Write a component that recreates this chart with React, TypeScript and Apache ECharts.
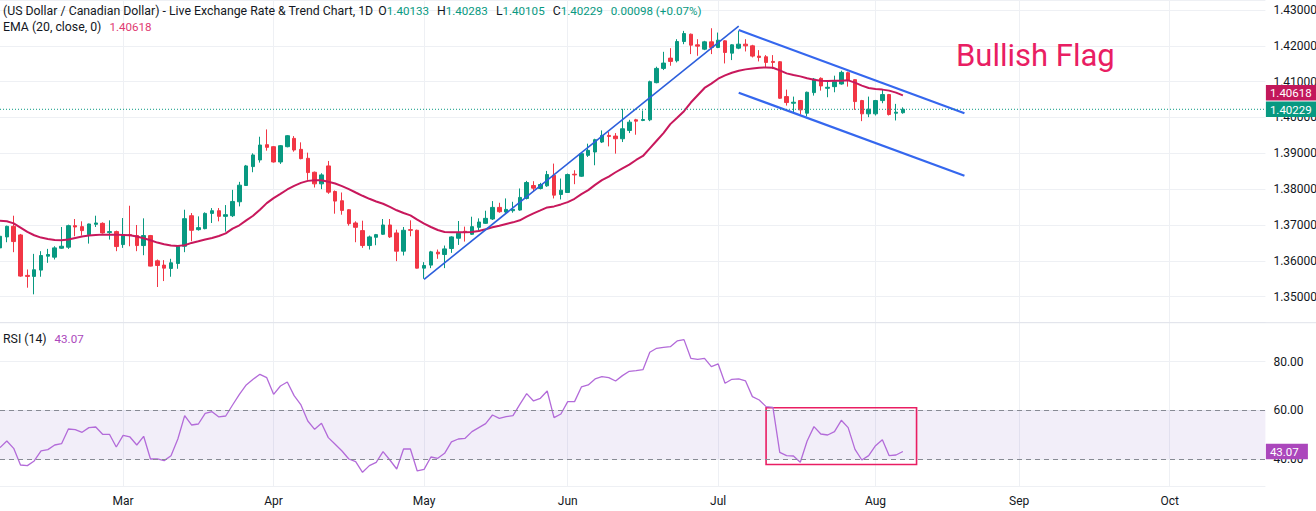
import React, { useEffect, useRef } from "react";
import * as echarts from "echarts";

// ---------- data ----------
const START_DATE = "2026-02-04";
const SLOT_COUNT = 186; // trading-day slots shown on the time axis (incl. future space)
const MONTHS = ["Jan", "Feb", "Mar", "Apr", "May", "Jun", "Jul", "Aug", "Sep", "Oct", "Nov", "Dec"];

const opens = [
  1.36361, 1.36667, 1.36963, 1.36722, 1.35593, 1.35565, 1.35741, 1.3613, 1.36102, 1.36352,
  1.3638, 1.36981, 1.36954, 1.36731, 1.37019, 1.37046, 1.36787, 1.36815, 1.36454, 1.36731,
  1.36704, 1.36426, 1.36704, 1.36, 1.3588, 1.35787, 1.35926, 1.36407, 1.37259, 1.3687,
  1.36898, 1.37324, 1.37398, 1.37241, 1.37259, 1.37648, 1.38102, 1.3863, 1.38815, 1.39241,
  1.39185, 1.38759, 1.39185, 1.39417, 1.39111, 1.38861, 1.38472, 1.38148, 1.38648, 1.37935,
  1.37676, 1.37426, 1.37056, 1.36843, 1.36426, 1.36657, 1.36741, 1.37, 1.36778, 1.36269,
  1.3687, 1.36852, 1.35796, 1.3588, 1.36241, 1.36176, 1.36343, 1.3663, 1.36824, 1.36741,
  1.36935, 1.37046, 1.37167, 1.37491, 1.37361, 1.37398, 1.37417, 1.37741, 1.38102, 1.38019,
  1.38093, 1.38389, 1.37852, 1.37907, 1.38417, 1.38361, 1.38944, 1.39037, 1.39315, 1.395,
  1.39481, 1.39407, 1.39639, 1.39935, 1.39917, 1.39935, 1.40972, 1.4137, 1.41657, 1.41583,
  1.4212, 1.42324, 1.42028, 1.41907, 1.42111, 1.41954, 1.42139, 1.41796, 1.41935, 1.42046,
  1.42, 1.41713, 1.41694, 1.41565, 1.41556, 1.40583, 1.40398, 1.40472, 1.4012, 1.40694,
  1.41093, 1.40815, 1.40861, 1.40935, 1.4125, 1.41056, 1.40472, 1.40102, 1.40102, 1.40472,
  1.40639, 1.4012, 1.40133,
];
const highs = [
  1.36731, 1.36981, 1.37259, 1.3675, 1.35759, 1.36194, 1.36269, 1.36333, 1.36407, 1.36944,
  1.37009, 1.37167, 1.37102, 1.37037, 1.37259, 1.37074, 1.3713, 1.36843, 1.37194, 1.37537,
  1.37, 1.37185, 1.36722, 1.36037, 1.36019, 1.36056, 1.36426, 1.37426, 1.37333, 1.37241,
  1.37352, 1.37472, 1.37472, 1.37556, 1.37981, 1.38204, 1.38676, 1.39, 1.39463, 1.39667,
  1.39204, 1.39231, 1.39509, 1.39481, 1.39306, 1.39019, 1.38491, 1.38444, 1.38787, 1.37963,
  1.37907, 1.37444, 1.37102, 1.3712, 1.36704, 1.3675, 1.37167, 1.37167, 1.3687, 1.36944,
  1.3713, 1.3687, 1.35963, 1.36278, 1.36315, 1.36426, 1.36685, 1.37111, 1.36954, 1.37231,
  1.37185, 1.37398, 1.37667, 1.3762, 1.37741, 1.37648, 1.38019, 1.38231, 1.38222, 1.38176,
  1.38509, 1.38713, 1.38296, 1.38435, 1.38528, 1.39009, 1.39269, 1.39407, 1.39639, 1.39593,
  1.39565, 1.40241, 1.39935, 1.39963, 1.40194, 1.41028, 1.41417, 1.41833, 1.41935, 1.42185,
  1.42417, 1.42343, 1.42185, 1.42139, 1.42491, 1.4237, 1.42157, 1.42046, 1.42417, 1.42185,
  1.42028, 1.4188, 1.41741, 1.41741, 1.41574, 1.40778, 1.40583, 1.40491, 1.40722, 1.41102,
  1.4112, 1.41, 1.41167, 1.41306, 1.41278, 1.41074, 1.40491, 1.40583, 1.40491, 1.40796,
  1.40657, 1.4038, 1.40283,
];
const lows = [
  1.36315, 1.36519, 1.36241, 1.35556, 1.3525, 1.35065, 1.35556, 1.35944, 1.36037, 1.36333,
  1.36333, 1.36685, 1.36704, 1.36481, 1.36944, 1.36759, 1.36593, 1.36269, 1.36361, 1.36407,
  1.36269, 1.36157, 1.35843, 1.35269, 1.35435, 1.35556, 1.35778, 1.36241, 1.36546, 1.36843,
  1.3688, 1.37056, 1.37102, 1.36815, 1.37222, 1.37519, 1.38093, 1.38472, 1.38741, 1.39074,
  1.38741, 1.38704, 1.39167, 1.39046, 1.38833, 1.38259, 1.38046, 1.38, 1.3787, 1.37315,
  1.37287, 1.36981, 1.36519, 1.36361, 1.36315, 1.36435, 1.36722, 1.36639, 1.35991, 1.36148,
  1.36685, 1.35787, 1.355, 1.35796, 1.36056, 1.35796, 1.36222, 1.36444, 1.36537, 1.36722,
  1.36843, 1.37028, 1.37139, 1.37343, 1.37324, 1.37343, 1.37398, 1.37713, 1.37926, 1.37991,
  1.38065, 1.37741, 1.37713, 1.37898, 1.38139, 1.38343, 1.38898, 1.38667, 1.39287, 1.39194,
  1.38991, 1.39315, 1.39565, 1.39519, 1.39898, 1.39898, 1.40954, 1.41324, 1.41444, 1.41537,
  1.42046, 1.41769, 1.41722, 1.4188, 1.41769, 1.41935, 1.41509, 1.41602, 1.41907, 1.41843,
  1.41676, 1.41565, 1.41398, 1.41352, 1.40519, 1.40333, 1.4012, 1.40083, 1.40028, 1.40611,
  1.4075, 1.40565, 1.40704, 1.40917, 1.40861, 1.40213, 1.39898, 1.40009, 1.40056, 1.40398,
  1.40056, 1.39917, 1.40105,
];
const closes = [
  1.36685, 1.36963, 1.36537, 1.35574, 1.35565, 1.3575, 1.36148, 1.36176, 1.36361, 1.36407,
  1.36981, 1.36944, 1.36843, 1.37028, 1.37056, 1.36778, 1.36815, 1.36398, 1.36731, 1.36704,
  1.36426, 1.36704, 1.35852, 1.3587, 1.35796, 1.35944, 1.36407, 1.37176, 1.36852, 1.36926,
  1.37324, 1.37398, 1.37241, 1.37287, 1.37657, 1.38111, 1.38648, 1.38954, 1.39231, 1.39167,
  1.38759, 1.39213, 1.39491, 1.39093, 1.38852, 1.38463, 1.38148, 1.38398, 1.37917, 1.37667,
  1.37407, 1.37037, 1.36935, 1.36426, 1.36667, 1.36731, 1.37, 1.36667, 1.36269, 1.36852,
  1.36852, 1.35796, 1.3587, 1.3625, 1.36194, 1.36333, 1.36667, 1.36769, 1.36796, 1.36954,
  1.37083, 1.37185, 1.37491, 1.3737, 1.37435, 1.37435, 1.37769, 1.38185, 1.38028, 1.3813,
  1.38407, 1.37833, 1.37972, 1.38407, 1.38398, 1.38991, 1.39083, 1.3938, 1.395, 1.39472,
  1.39407, 1.39685, 1.3987, 1.39898, 1.39944, 1.41, 1.4137, 1.41519, 1.41565, 1.4212,
  1.42343, 1.42019, 1.41991, 1.42111, 1.41954, 1.42157, 1.41815, 1.42028, 1.42046, 1.42,
  1.41713, 1.41676, 1.41537, 1.41537, 1.40537, 1.40417, 1.40426, 1.40213, 1.40704, 1.41074,
  1.4088, 1.40843, 1.41, 1.41259, 1.41046, 1.40444, 1.40102, 1.40231, 1.40472, 1.40639,
  1.40083, 1.40148, 1.40229,
];
const ema20 = [
  1.3712, 1.37102, 1.37046, 1.36926, 1.36806, 1.36713, 1.36648, 1.36611, 1.36583, 1.36574,
  1.36593, 1.36639, 1.36676, 1.36704, 1.36722, 1.36731, 1.36731, 1.36731, 1.36722, 1.36713,
  1.36676, 1.3663, 1.36574, 1.36509, 1.36463, 1.36426, 1.36417, 1.36435, 1.365, 1.36546,
  1.36593, 1.36639, 1.36694, 1.36765, 1.36898, 1.36991, 1.3713, 1.37259, 1.37426, 1.37611,
  1.3775, 1.3787, 1.37991, 1.38093, 1.38176, 1.38231, 1.3825, 1.3825, 1.38204, 1.38157,
  1.38083, 1.38, 1.37907, 1.37815, 1.37731, 1.37657, 1.37593, 1.37505, 1.3741, 1.37335,
  1.37269, 1.37148, 1.37037, 1.36944, 1.36861, 1.36806, 1.36796, 1.36796, 1.36796, 1.36806,
  1.36833, 1.3688, 1.36935, 1.36981, 1.37028, 1.37074, 1.3713, 1.37231, 1.37324, 1.37407,
  1.37491, 1.37519, 1.37574, 1.37639, 1.37731, 1.37861, 1.37972, 1.3812, 1.3825, 1.38352,
  1.38472, 1.38583, 1.38685, 1.38815, 1.38926, 1.39139, 1.39352, 1.39565, 1.39815, 1.39991,
  1.40176, 1.40417, 1.4062, 1.40824, 1.40944, 1.41083, 1.41176, 1.4125, 1.41306, 1.41343,
  1.4137, 1.41389, 1.41398, 1.41389, 1.41315, 1.41231, 1.41185, 1.41148, 1.41093, 1.41056,
  1.41028, 1.41019, 1.41028, 1.41028, 1.41037, 1.40972, 1.40889, 1.40824, 1.40796, 1.40778,
  1.4075, 1.40694, 1.40618,
];
const rsi14 = [
  44.66, 47.4, 44.38, 37.53, 37.26, 39.18, 43.29, 43.84, 45.75, 46.3,
  52.33, 52.05, 50.96, 52.88, 53.15, 50.14, 50.14, 44.93, 49.73, 49.04,
  45.75, 49.32, 40.0, 40.0, 39.32, 41.37, 48.22, 57.81, 53.97, 54.38,
  58.77, 59.45, 57.26, 57.67, 62.19, 66.58, 70.41, 72.74, 74.79, 73.42,
  66.58, 70.0, 71.64, 66.03, 62.19, 55.62, 52.19, 54.66, 48.77, 46.03,
  43.29, 40.0, 38.9, 34.52, 37.26, 38.63, 43.01, 39.59, 35.89, 44.11,
  44.11, 35.07, 35.75, 40.82, 40.27, 42.33, 47.0, 48.22, 48.49, 51.23,
  52.88, 54.52, 58.08, 56.71, 57.4, 57.81, 62.47, 66.85, 63.84, 64.93,
  67.95, 56.99, 58.49, 63.56, 63.56, 69.59, 70.41, 72.88, 73.84, 73.42,
  72.05, 74.25, 76.03, 76.3, 76.71, 83.84, 85.48, 85.89, 86.16, 88.49,
  89.04, 81.37, 80.96, 81.37, 77.95, 79.04, 71.1, 72.74, 72.88, 72.05,
  65.62, 64.25, 61.51, 61.23, 42.74, 41.37, 41.23, 38.63, 47.4, 53.29,
  50.27, 49.86, 51.23, 55.89, 52.88, 43.97, 39.59, 41.37, 45.48, 47.95,
  41.37, 41.64, 43.07,
];

const LAST_OPEN = 1.40133;
const LAST_HIGH = 1.40283;
const LAST_LOW = 1.40105;
const LAST_CLOSE = 1.40229;
const LAST_CHANGE = "0.00098 (+0.07%)";
const EMA_LAST = 1.40618;
const RSI_LAST = 43.07;

// annotation anchors: [bar index, value]
const risingLine = [[62, 1.35484], [108, 1.42553]];
const flagUpper = [[108, 1.42442], [141, 1.40117]];
const flagLower = [[108, 1.40692], [141, 1.38375]];
const rsiBox = [[112, 61.08], [134, 37.75]];
const RSI_BAND = [40, 60];

const PRICE_MIN = 1.34273;
const PRICE_MAX = 1.43279;
const RSI_MIN = 28.9;
const RSI_MAX = 96.0;

// ---------- styles ----------
const FONT = "Roboto, 'Liberation Sans', sans-serif";
const TEXT = "#131722";
const GRID = "#eef0f4";
const UP = "#089981";
const DOWN = "#f23645";
const EMA_COLOR = "#c8185c";
const RSI_COLOR = "#b36bd9";
const RSI_TEXT = "#ab47bc";
const BLUE = "#3567ee";
const PINK = "#e91e63";
const GRID_RIGHT = 50.6;
const PANE_SPLIT = 322.7;
const RSI_HEIGHT = 163.3;
const BADGE_H = 15.5;

function weekdays(start: string, n: number): string[] {
  const out: string[] = [];
  let t = Date.parse(start + "T00:00:00Z");
  while (out.length < n) {
    const d = new Date(t);
    const wd = d.getUTCDay();
    if (wd !== 0 && wd !== 6) out.push(d.toISOString().slice(0, 10));
    t += 86400000;
  }
  return out;
}

export default function App() {
  const ref = useRef<HTMLDivElement>(null);

  useEffect(() => {
    if (!ref.current) return;
    const chart = echarts.init(ref.current, null, { renderer: "svg" });
    const dates = weekdays(START_DATE, SLOT_COUNT);
    const isMonthStart = (i: number) => i > 0 && dates[i].slice(5, 7) !== dates[i - 1].slice(5, 7);
    const monthInterval = (i: number) => isMonthStart(i);

    const candles = opens.map((o, i) => [o, closes[i], lows[i], highs[i]]);
    const seg = (pts: number[][], color: string, width: number) => [
      { coord: [dates[pts[0][0]], pts[0][1]], lineStyle: { color, width, type: "solid" }, label: { show: false } },
      { coord: [dates[pts[1][0]], pts[1][1]] },
    ];

    const xBase = {
      type: "category",
      data: dates,
      boundaryGap: false,
      axisLine: { show: false },
      axisTick: { show: false },
      splitLine: { show: true, interval: monthInterval, lineStyle: { color: GRID, width: 1 } },
    };

    chart.setOption({
      animation: false,
      backgroundColor: "#ffffff",
      textStyle: { fontFamily: FONT },
      grid: [
        { left: 0, right: GRID_RIGHT, top: 0, height: PANE_SPLIT, outerBoundsMode: "none" },
        { left: 0, right: GRID_RIGHT, top: PANE_SPLIT, height: RSI_HEIGHT, outerBoundsMode: "none" },
      ],
      xAxis: [
        { ...xBase, gridIndex: 0, axisLabel: { show: false } },
        {
          ...xBase,
          gridIndex: 1,
          axisLabel: {
            show: true,
            interval: monthInterval,
            formatter: (v: string) => MONTHS[parseInt(v.slice(5, 7), 10) - 1],
            color: TEXT,
            fontSize: 12,
            fontFamily: FONT,
            margin: 9,
          },
        },
      ],
      yAxis: [
        {
          type: "value",
          gridIndex: 0,
          position: "right",
          min: PRICE_MIN,
          max: PRICE_MAX,
          splitNumber: 9,
          axisLine: { show: false },
          axisTick: { show: false },
          axisLabel: {
            formatter: (v: number) => v.toFixed(5),
            showMinLabel: false,
            showMaxLabel: false,
            color: TEXT,
            fontSize: 12,
            fontFamily: FONT,
            margin: 8,
          },
          splitLine: { lineStyle: { color: GRID, width: 1 } },
        },
        {
          type: "value",
          gridIndex: 1,
          position: "right",
          min: RSI_MIN,
          max: RSI_MAX,
          splitNumber: 3,
          axisLine: { show: false },
          axisTick: { show: false },
          axisLabel: {
            formatter: (v: number) => {
              const r = Math.round(v * 100) / 100;
              return r === 40 || r === 60 || r === 80 ? r.toFixed(2) : "";
            },
            showMinLabel: false,
            showMaxLabel: false,
            color: TEXT,
            fontSize: 12,
            fontFamily: FONT,
            margin: 8,
          },
          splitLine: { lineStyle: { color: GRID, width: 1 } },
        },
      ],
      series: [
        {
          type: "candlestick",
          name: "USDCAD",
          xAxisIndex: 0,
          yAxisIndex: 0,
          data: candles,
          barWidth: 4,
          itemStyle: { color: UP, color0: DOWN, borderColor: UP, borderColor0: DOWN, borderWidth: 1 },
          markLine: {
            silent: true,
            symbol: ["none", "none"],
            animation: false,
            data: [
              seg(risingLine, "#2c5fdc", 1.6),
              seg(flagUpper, BLUE, 2.2),
              seg(flagLower, BLUE, 2.2),
            ],
          },
        },
        {
          type: "line",
          name: "EMA",
          xAxisIndex: 0,
          yAxisIndex: 0,
          data: ema20,
          showSymbol: false,
          symbol: "none",
          lineStyle: { color: EMA_COLOR, width: 2 },
        },
        {
          type: "line",
          name: "RSI",
          xAxisIndex: 1,
          yAxisIndex: 1,
          data: rsi14,
          showSymbol: false,
          symbol: "none",
          lineStyle: { color: RSI_COLOR, width: 1.3 },
          markLine: {
            silent: true,
            symbol: ["none", "none"],
            animation: false,
            label: { show: false },
            lineStyle: { color: "#878a94", type: [5, 4], width: 1 },
            data: [{ yAxis: RSI_BAND[1] }, { yAxis: RSI_BAND[0] }],
          },
          markArea: {
            silent: true,
            animation: false,
            data: [
              [
                { yAxis: RSI_BAND[1], itemStyle: { color: "rgba(126, 87, 194, 0.1)" } },
                { yAxis: RSI_BAND[0] },
              ],
              [
                {
                  coord: [dates[rsiBox[0][0]], rsiBox[0][1]],
                  itemStyle: { color: "rgba(0,0,0,0)", borderColor: PINK, borderWidth: 1.6 },
                },
                { coord: [dates[rsiBox[1][0]], rsiBox[1][1]] },
              ],
            ],
          },
        },
      ],
    });

    const W = chart.getWidth();
    const gx = W - GRID_RIGHT;
    const yClose = chart.convertToPixel({ yAxisIndex: 0 }, LAST_CLOSE) as number;
    let yEma = chart.convertToPixel({ yAxisIndex: 0 }, EMA_LAST) as number;
    if (yClose - yEma < BADGE_H + 1) yEma = yClose - BADGE_H - 1;
    const yRsi = chart.convertToPixel({ yAxisIndex: 1 }, RSI_LAST) as number;

    const badge = (y: number, text: string, color: string, width: number) => ({
      type: "group",
      z: 100,
      children: [
        { type: "rect", z: 100, shape: { x: gx + 0.5, y: y - BADGE_H / 2, width, height: BADGE_H }, style: { fill: color } },
        {
          type: "text",
          z: 101,
          x: gx + 4.5,
          y: y + 0.5,
          style: {
            text,
            fill: "#ffffff",
            font: `11.5px ${FONT}`,
            align: "left",
            verticalAlign: "middle",
            textAlign: "left",
            textVerticalAlign: "middle",
          },
        },
      ],
    });

    const txt = (x: number, y: number, text: string, rich: any) => ({
      type: "text",
      z: 50,
      x,
      y,
      style: {
        text,
        rich,
        font: `12.3px ${FONT}`,
        fill: TEXT,
        align: "left",
        verticalAlign: "middle",
        textAlign: "left",
        textVerticalAlign: "middle",
      },
    });

    const base = { fill: TEXT, fontSize: 12.3, fontFamily: FONT };
    const val = { fontSize: 11.6, fontFamily: FONT, fill: UP };
    chart.setOption({
      graphic: [
        {
          type: "line",
          z: 40,
          shape: { x1: 0, y1: PANE_SPLIT, x2: W, y2: PANE_SPLIT },
          style: { stroke: "#e0e3eb", lineWidth: 1 },
        },
        {
          type: "line",
          z: 45,
          silent: true,
          shape: { x1: 0, y1: yClose, x2: gx, y2: yClose },
          style: { stroke: UP, lineWidth: 1, lineDash: [1, 2] },
        },
        txt(
          3,
          10.5,
          "{t|(US Dollar / Canadian Dollar) - Live Exchange Rate & Trend Chart, 1D}{k0|O}{v|" +
            LAST_OPEN.toFixed(5) +
            "}{k|H}{v|" +
            LAST_HIGH.toFixed(5) +
            "}{k|L}{v|" +
            LAST_LOW.toFixed(5) +
            "}{k|C}{v|" +
            LAST_CLOSE.toFixed(5) +
            "}{c|" +
            LAST_CHANGE +
            "}",
          {
            t: { ...base },
            k0: { ...base, padding: [0, 0, 0, 5] },
            k: { ...base, padding: [0, 0, 0, 8] },
            v: { ...val },
            c: { ...val, padding: [0, 0, 0, 8] },
          }
        ),
        txt(3, 27, "{t|EMA (20, close, 0)}{e|" + EMA_LAST.toFixed(5) + "}", {
          t: { ...base },
          e: { ...val, fill: "#e03a72", padding: [0, 0, 0, 8] },
        }),
        txt(3, 339, "{t|RSI (14)}{r|" + RSI_LAST.toFixed(2) + "}", {
          t: { ...base },
          r: { ...val, fill: RSI_TEXT, padding: [0, 0, 0, 8] },
        }),
        {
          type: "text",
          z: 50,
          x: 956,
          y: 55,
          style: {
            text: "Bullish Flag",
            font: `31px ${FONT}`,
            fill: PINK,
            align: "left",
            verticalAlign: "middle",
            textAlign: "left",
            textVerticalAlign: "middle",
          },
        },
        badge(yEma, EMA_LAST.toFixed(5), "#c2185b", W - gx),
        badge(yClose, LAST_CLOSE.toFixed(5), UP, W - gx),
        badge(yRsi, RSI_LAST.toFixed(2), RSI_TEXT, 42),
      ],
    });

    return () => chart.dispose();
  }, []);

  return (
    <div
      ref={ref}
      style={{ position: "fixed", left: 0, top: 0, width: 1316, height: 511, background: "#fff" }}
    />
  );
}
